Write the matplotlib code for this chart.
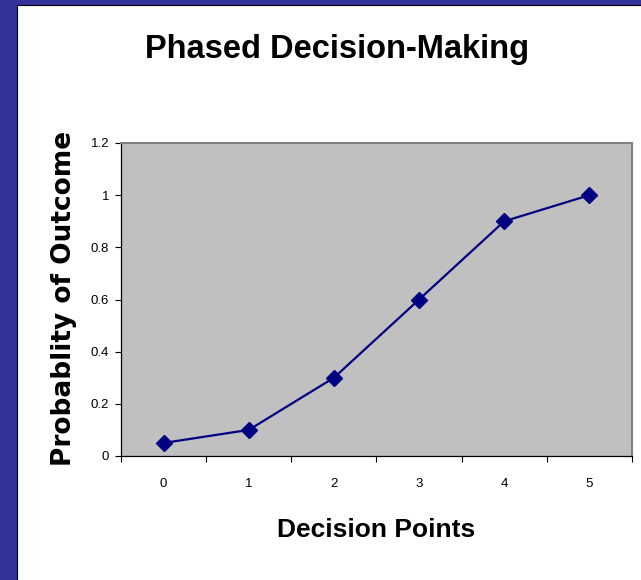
import matplotlib
matplotlib.use("Agg")
import matplotlib.pyplot as plt
from matplotlib.patches import Rectangle
from matplotlib.lines import Line2D

plt.rcParams['font.family'] = ['Liberation Sans', 'DejaVu Sans']

# data
decision_points = [0, 1, 2, 3, 4, 5]
probability = [0.05, 0.1, 0.3, 0.6, 0.9, 1.0]
y_ticks = [0, 0.2, 0.4, 0.6, 0.8, 1, 1.2]
y_tick_labels = ["0", "0.2", "0.4", "0.6", "0.8", "1", "1.2"]

W, H = 641, 580
fig = plt.figure(figsize=(W / 100, H / 100), dpi=100)
fig.patch.set_facecolor("white")

# blue slide border on the left and top
border = "#333399"
fig.add_artist(Rectangle((0, 0), 16 / W, 1, transform=fig.transFigure, color=border, zorder=0))
fig.add_artist(Rectangle((0, 1 - 4 / H), 1, 4 / H, transform=fig.transFigure, color=border, zorder=0))
fig.add_artist(Line2D([16.5 / W, 16.5 / W], [0, 1 - 4.5 / H], transform=fig.transFigure, color="black", lw=0.8))
fig.add_artist(Line2D([16.5 / W, 1], [1 - 4.5 / H, 1 - 4.5 / H], transform=fig.transFigure, color="black", lw=0.8))

# plot area in pixels
left, right, top, bottom = 121, 632, 143, 456
ax = fig.add_axes([left / W, 1 - bottom / H, (right - left) / W, (bottom - top) / H])
ax.set_facecolor("#C0C0C0")

ax.plot(decision_points, probability, color="#000080", lw=1.6,
        marker="D", markersize=8, markerfacecolor="#000080", markeredgecolor="#000080")

ax.set_xlim(-0.5, 5.5)
ax.set_ylim(0, 1.2)
ax.set_yticks(y_ticks)
ax.set_yticklabels(y_tick_labels)
ax.set_xticks(decision_points)
ax.set_xticklabels([str(d) for d in decision_points])
ax.set_xticks([d - 0.5 for d in decision_points] + [5.5], minor=True)

ax.tick_params(axis="y", direction="out", length=4, width=0.8, labelsize=9.5, pad=4.5)
ax.tick_params(axis="x", which="major", length=0, labelsize=9.5, pad=16)
ax.tick_params(axis="x", which="minor", direction="out", length=4, width=0.8)

for side in ("top", "right"):
    ax.spines[side].set_color("#808080")
    ax.spines[side].set_linewidth(1.5)
for side in ("left", "bottom"):
    ax.spines[side].set_color("black")
    ax.spines[side].set_linewidth(0.9)

fig.text(337 / W, 1 - 58 / H, "Phased Decision-Making", ha="center", va="baseline",
         fontsize=23.5, fontweight="bold")
fig.text(77 / W, 1 - 298 / H, "Probablity of Outcome", ha="right", va="center",
         rotation=90, fontsize=19, fontweight="bold", family=["DejaVu Sans"])
fig.text(376 / W, 1 - 537 / H, "Decision Points", ha="center", va="baseline",
         fontsize=19, fontweight="bold")

fig.savefig("out.png", dpi=100)
